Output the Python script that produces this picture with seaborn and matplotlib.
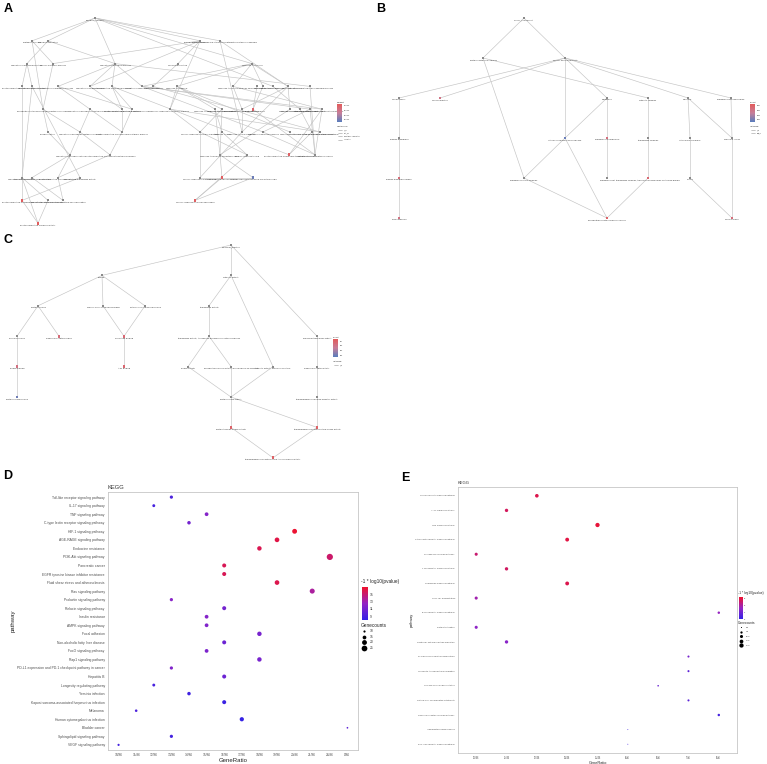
import numpy as np
import pandas as pd
import matplotlib
matplotlib.use("Agg")
import matplotlib.pyplot as plt
import seaborn as sns
from matplotlib.colors import LinearSegmentedColormap, Normalize

sns.set_theme(style="white")
plt.rcParams['font.family'] = ['Liberation Sans', 'DejaVu Sans']

# ---------------- Panel A (GO BP DAG) ----------------
a_keys = ["bp",
          "mp", "br", "cp", "bpi",
          "rmf", "cmp", "rbp", "cc", "rs",
          "prmf", "rca", "rmp", "rcp", "prbp", "rrs", "st", "rc", "res", "dr", "rst", "isp", "rbs", "rmo",
          "pccmp", "rpmp", "prcp", "prmp", "crcs", "roc", "ros", "rebs", "ir", "rb", "risp", "rrst", "rres",
          "phos", "rphmp", "prpmp", "cros", "rl", "roo", "rdr", "rcy", "prisp", "cmsp",
          "rphos", "prphmp", "rmbo", "crl", "prres", "rir",
          "rka", "rpp", "prph", "rta", "crbs", "rlps", "crmbo",
          "prta", "rpka", "prpp", "crlps",
          "prka"]
a_labels = ["biological_process",
            "metabolic process", "biological regulation", "cellular process",
            "biological process involved in interspecies interaction between organisms",
            "regulation of molecular function", "cellular metabolic process", "regulation of biological process",
            "cell communication", "response to stimulus",
            "positive regulation of molecular function", "regulation of catalytic activity",
            "regulation of metabolic process", "regulation of cellular process",
            "positive regulation of biological process", "regulation of response to stimulus",
            "signal transduction", "response to chemical", "response to external stimulus",
            "defense response", "response to stress", "immune system process",
            "response to biotic stimulus", "regulation of multicellular organismal process",
            "phosphate-containing compound metabolic process", "regulation of phosphorus metabolic process",
            "positive regulation of cellular process", "positive regulation of metabolic process",
            "cellular response to chemical stimulus", "response to oxygen-containing compound",
            "response to organic substance", "response to external biotic stimulus", "inflammatory response",
            "response to bacterium", "regulation of immune system process", "regulation of response to stress",
            "regulation of response to external stimulus",
            "phosphorylation", "regulation of phosphate metabolic process",
            "positive regulation of phosphorus metabolic process", "cellular response to organic substance",
            "response to lipid", "response to other organism", "regulation of defense response",
            "response to cytokine", "positive regulation of immune system process",
            "cytokine-mediated signaling pathway",
            "regulation of phosphorylation", "positive regulation of phosphate metabolic process",
            "response to molecule of bacterial origin", "cellular response to lipid",
            "positive regulation of response to external stimulus", "regulation of inflammatory response",
            "regulation of kinase activity", "regulation of protein phosphorylation",
            "positive regulation of phosphorylation", "regulation of transferase activity",
            "cellular response to biotic stimulus", "response to lipopolysaccharide",
            "cellular response to molecule of bacterial origin",
            "positive regulation of transferase activity", "regulation of protein kinase activity",
            "positive regulation of protein phosphorylation", "cellular response to lipopolysaccharide",
            "positive regulation of kinase activity"]
a_layer = [0] + [1]*4 + [2]*5 + [3]*14 + [4]*13 + [5]*10 + [6]*6 + [7]*7 + [8]*4 + [9]
a_slot = [95,
          32, 48, 200, 220,
          27, 53, 115, 178, 252,
          22, 32, 58, 90, 112, 142, 153, 177, 233, 257, 263, 273, 288, 310,
          43, 90, 122, 132, 170, 215, 222, 242, 253, 290, 300, 310, 322,
          48, 80, 122, 200, 222, 242, 263, 290, 312, 320,
          70, 110, 220, 247, 289, 315,
          22, 32, 58, 80, 200, 222, 253,
          22, 48, 63, 195,
          38]
a_padj = {"ir": 6e-6, "prres": 4e-6, "rlps": 3e-6, "prta": 2e-6, "crlps": 3e-6, "prka": 1e-6, "crmbo": 4.6e-5}
a_edges = [("bp", "mp"), ("bp", "br"), ("bp", "cp"), ("bp", "bpi"), ("bp", "rs"), ("bp", "rbp"), ("bp", "isp"),
           ("mp", "cmp"), ("mp", "pccmp"), ("br", "rmf"), ("br", "rbp"),
           ("cp", "cc"), ("cp", "cmp"), ("cp", "rcp"), ("cp", "crcs"), ("bpi", "rbs"), ("bpi", "roo"),
           ("rmf", "prmf"), ("rmf", "rca"), ("cmp", "pccmp"),
           ("rbp", "rmp"), ("rbp", "rcp"), ("rbp", "prbp"), ("rbp", "rrs"), ("rbp", "rmo"), ("cc", "st"),
           ("rs", "rc"), ("rs", "res"), ("rs", "rst"), ("rs", "rbs"), ("rs", "rrs"),
           ("prmf", "prta"), ("rca", "rta"), ("rca", "rka"), ("rmp", "rpmp"), ("rmp", "prmp"),
           ("rcp", "prcp"), ("prbp", "prcp"), ("prbp", "prmp"), ("prbp", "prres"),
           ("rrs", "rrst"), ("rrs", "rres"), ("rrs", "rdr"), ("st", "cmsp"),
           ("rc", "crcs"), ("rc", "roc"), ("rc", "ros"), ("rc", "rcy"), ("res", "rebs"), ("res", "rres"),
           ("dr", "ir"), ("rst", "ir"), ("isp", "risp"), ("rbs", "rebs"), ("rbs", "rb"), ("rbs", "roo"),
           ("rmo", "rir"), ("pccmp", "phos"), ("pccmp", "rphmp"), ("rpmp", "rphmp"), ("rpmp", "prpmp"),
           ("prcp", "prpmp"), ("prmp", "prpmp"), ("crcs", "cros"), ("crcs", "cmsp"),
           ("roc", "rl"), ("roc", "rmbo"), ("ros", "cros"), ("ros", "rmbo"), ("rebs", "roo"),
           ("ir", "rir"), ("rb", "rmbo"), ("risp", "prisp"), ("rrst", "rdr"), ("rrst", "rir"),
           ("rres", "prres"), ("rres", "rir"), ("phos", "rphos"), ("rphmp", "rphos"), ("rphmp", "prphmp"),
           ("prpmp", "prphmp"), ("cros", "crl"), ("cros", "crbs"), ("rl", "crl"), ("roo", "crbs"),
           ("rdr", "rir"), ("prisp", "prres"), ("rphos", "rpp"), ("rphos", "prph"), ("prphmp", "prph"),
           ("rmbo", "rlps"), ("rmbo", "crmbo"), ("crl", "crlps"), ("rka", "rpka"), ("rka", "prka"),
           ("rpp", "prpp"), ("prph", "prpp"), ("rta", "prta"), ("crbs", "crmbo"), ("rlps", "crlps"),
           ("crmbo", "crlps"), ("prta", "prka"), ("rpka", "prka")]

# ---------------- Panel B (GO CC DAG) ----------------
b_keys = ["cc0", "pcc", "cae", "cper", "ccj", "mem", "cat", "org", "mel",
          "pm", "icm", "mmd", "trc", "iorg", "ol",
          "pmr", "mpc", "mr", "trcp", "ves",
          "fa", "pi3k", "vl"]
b_labels = ["cellular_component", "protein-containing complex", "cellular anatomical entity",
            "cell periphery", "cell-cell junction", "membrane", "catalytic complex", "organelle",
            "membrane-enclosed lumen",
            "plasma membrane", "intrinsic component of membrane", "membrane microdomain",
            "transferase complex", "intracellular organelle", "organelle lumen",
            "plasma membrane region", "membrane protein complex", "membrane raft",
            "transferase complex, transferring phosphorus-containing groups", "vesicle",
            "focal adhesion", "phosphatidylinositol 3-kinase complex", "vesicle lumen"]
b_layer = [0, 1, 1, 2, 2, 2, 2, 2, 2, 3, 3, 3, 3, 3, 3, 4, 4, 4, 4, 4, 5, 5, 5]
b_slot = [524, 483, 565, 399, 440, 607, 648, 688, 731,
          399, 565, 607, 648, 690, 732,
          399, 524, 607, 648, 690,
          399, 607, 732]
b_padj = {"ccj": 0.0015, "mmd": 0.0012, "pmr": 0.001, "trcp": 0.0008, "pi3k": 0.0005,
          "vl": 0.0011, "fa": 0.0014, "icm": 0.0042}
b_edges = [("cc0", "pcc"), ("cc0", "cae"), ("pcc", "mpc"), ("pcc", "cat"),
           ("cae", "cper"), ("cae", "ccj"), ("cae", "mem"), ("cae", "org"), ("cae", "mel"), ("cae", "icm"),
           ("cper", "pm"), ("pm", "pmr"), ("pmr", "fa"), ("mem", "icm"), ("mem", "mmd"), ("mmd", "mr"),
           ("icm", "mpc"), ("icm", "pi3k"), ("mpc", "pi3k"), ("cat", "trc"), ("trc", "trcp"),
           ("trcp", "pi3k"), ("org", "iorg"), ("org", "ol"), ("iorg", "ves"), ("ves", "vl"),
           ("mel", "ol"), ("ol", "vl")]

# ---------------- Panel C (GO MF DAG) ----------------
c_keys = ["mf", "bind", "cat", "pb", "occb", "hcb", "ta", "eb", "srb", "nb", "tap", "mta",
          "kb", "atp", "ka", "pta", "cap", "sra", "pkb", "pka", "tsra", "ptka", "trpk", "trptk"]
c_labels = ["molecular_function", "binding", "catalytic activity", "protein binding",
            "organic cyclic compound binding", "heterocyclic compound binding", "transferase activity",
            "enzyme binding", "signaling receptor binding", "nucleotide binding",
            "transferase activity, transferring phosphorus-containing groups", "molecular transducer activity",
            "kinase binding", "ATP binding", "kinase activity",
            "phosphotransferase activity, alcohol group as acceptor", "catalytic activity, acting on a protein",
            "signaling receptor activity", "protein kinase binding", "protein kinase activity",
            "transmembrane signaling receptor activity", "protein tyrosine kinase activity",
            "transmembrane receptor protein kinase activity",
            "transmembrane receptor protein tyrosine kinase activity"]
c_layer = [0, 1, 1, 2, 2, 2, 2, 3, 3, 3, 3, 3, 4, 4, 4, 4, 4, 4, 5, 5, 5, 6, 6, 7]
c_slot = [231, 102, 231, 38, 103, 145, 209, 17, 59, 124, 209, 317,
          17, 124, 188, 231, 273, 317, 17, 231, 317, 231, 317, 273]
c_padj = {"srb": 0.012, "nb": 0.010, "kb": 0.015, "atp": 0.008, "ptka": 0.006, "trpk": 0.005,
          "trptk": 0.004, "pkb": 0.045}
c_edges = [("mf", "bind"), ("mf", "cat"), ("mf", "mta"), ("bind", "pb"), ("bind", "occb"), ("bind", "hcb"),
           ("pb", "eb"), ("pb", "srb"), ("occb", "nb"), ("hcb", "nb"), ("nb", "atp"), ("eb", "kb"),
           ("kb", "pkb"), ("cat", "ta"), ("cat", "cap"), ("ta", "tap"), ("tap", "ka"), ("tap", "pta"),
           ("ka", "pka"), ("pta", "pka"), ("cap", "pka"), ("pka", "ptka"), ("pka", "trpk"),
           ("mta", "sra"), ("sra", "tsra"), ("tsra", "trpk"), ("ptka", "trptk"), ("trpk", "trptk")]

# ---------------- Panel D (KEGG dot plot) ----------------
d_pathways = ["Toll-like receptor signaling pathway", "IL-17 signaling pathway", "TNF signaling pathway",
              "C-type lectin receptor signaling pathway", "HIF-1 signaling pathway", "AGE-RAGE signaling pathway",
              "Endocrine resistance", "PI3K-Akt signaling pathway", "Pancreatic cancer",
              "EGFR tyrosine kinase inhibitor resistance", "Fluid shear stress and atherosclerosis",
              "Ras signaling pathway", "Prolactin signaling pathway", "Relaxin signaling pathway",
              "Insulin resistance", "AMPK signaling pathway", "Focal adhesion",
              "Non-alcoholic fatty liver disease", "FoxO signaling pathway", "Rap1 signaling pathway",
              "PD-L1 expression and PD-1 checkpoint pathway in cancer", "Hepatitis B",
              "Longevity regulating pathway", "Yersinia infection",
              "Kaposi sarcoma-associated herpesvirus infection", "Melanoma", "Human cytomegalovirus infection",
              "Bladder cancer", "Sphingolipid signaling pathway", "VEGF signaling pathway"]
d_counts = [13, 12, 15, 14, 20, 19, 18, 28, 16, 16, 19, 21, 13, 16, 15, 15, 18, 16, 15, 18,
            13, 16, 12, 14, 16, 11, 17, 9, 13, 10]
d_logp = [9.2, 8.9, 11.8, 11.0, 16.8, 16.2, 15.9, 15.2, 15.8, 15.8, 16.0, 13.6, 12.0, 11.0, 11.8, 11.6,
          11.2, 10.6, 11.4, 11.2, 11.6, 10.6, 9.0, 8.6, 8.4, 9.2, 8.1, 10.0, 8.8, 8.8]
d_total = 86

# ---------------- Panel E (KEGG dot plot) ----------------
e_pathways = ["Toll-like receptor signaling pathway", "IL-17 signaling pathway", "TNF signaling pathway",
              "C-type lectin receptor signaling pathway", "NF-kappa B signaling pathway",
              "T cell receptor signaling pathway", "Chemokine signaling pathway", "Th17 cell differentiation",
              "B cell receptor signaling pathway", "Platelet activation",
              "Neutrophil extracellular trap formation", "Fc gamma R-mediated phagocytosis",
              "Leukocyte transendothelial migration", "Th1 and Th2 cell differentiation",
              "Natural killer cell mediated cytotoxicity", "NOD-like receptor signaling pathway",
              "Inflammatory bowel disease", "RIG-I-like receptor signaling pathway"]
e_counts = [12, 11, 15, 13, 10, 11, 13, 10, 8, 10, 11, 7, 7, 6, 7, 8, 5, 5]
e_logp = [7.6, 7.3, 8.0, 7.8, 6.9, 7.2, 7.6, 5.6, 5.2, 5.0, 4.8, 4.2, 3.4, 3.8, 3.3, 2.6, 2.4, 2.4]
e_total = 46

# ======================================================================
W, H = 767, 764
fig = plt.figure(figsize=(W / 100, H / 100), dpi=100)
fig.patch.set_facecolor("white")


def frac(x0, y0, x1, y1):
    return [x0 / W, 1 - y1 / H, (x1 - x0) / W, (y1 - y0) / H]


ax_g = fig.add_axes([0, 0, 1, 1])
ax_g.set_xlim(0, W)
ax_g.set_ylim(H, 0)
ax_g.axis("off")

cmap_go = LinearSegmentedColormap.from_list("go", ["#e35b5b", "#c77f9a", "#5a7dbd"])
cmap_ke = LinearSegmentedColormap.from_list("ke", ["#3322e6", "#9424c4", "#f0122c"])


def draw_graph(keys, labels, layers, slots, padj, edges, y0, dy, pnorm):
    df = pd.DataFrame({"key": keys, "label": labels, "layer": layers, "x": slots})
    df["y"] = y0 + dy * df["layer"]
    df["padj"] = [padj.get(k, np.nan) for k in keys]
    pos = df.set_index("key")
    for a, b in edges:
        ax_g.plot([pos.at[a, "x"], pos.at[b, "x"]], [pos.at[a, "y"], pos.at[b, "y"]],
                  color="#c4c4c4", lw=0.45, zorder=1)
    gray = df[df["padj"].isna()]
    sig = df[df["padj"].notna()]
    sns.scatterplot(data=gray, x="x", y="y", color="#8a8a8a", marker="s", s=3.5, linewidth=0,
                    ax=ax_g, zorder=3, legend=False)
    sns.scatterplot(data=sig, x="x", y="y", hue="padj", palette=cmap_go, hue_norm=pnorm, marker="s",
                    s=4.5, linewidth=0, ax=ax_g, zorder=3, legend=False)
    for _, r in df.iterrows():
        ax_g.text(r["x"], r["y"] + 2.0, r["label"], fontsize=1.6, ha="center", va="center",
                  color="#333333", zorder=4)
    ax_g.set_xlim(0, W)
    ax_g.set_ylim(H, 0)
    ax_g.set_xlabel("")
    ax_g.set_ylabel("")


def go_legend(x, y, tick_labels, rels, fs=1.6):
    ax_g.text(x, y - 1, "p.adjust", fontsize=fs, ha="left", va="bottom", color="#333333")
    cax = fig.add_axes(frac(x, y, x + 5, y + 18))
    cax.imshow(np.linspace(0, 1, 64).reshape(-1, 1), aspect="auto", cmap=cmap_go)
    cax.axis("off")
    n = len(tick_labels)
    for i, t in enumerate(tick_labels):
        ax_g.text(x + 7, y + 2 + i * (14 / max(n - 1, 1)), t, fontsize=fs * 0.85, ha="left",
                  va="center", color="#333333")
    ax_g.text(x, y + 22, "relationship", fontsize=fs, ha="left", va="center", color="#333333")
    for i, r in enumerate(rels):
        yy = y + 26 + i * 3.2
        ax_g.plot([x + 1, x + 5], [yy, yy], color="#9a9a9a", lw=0.4)
        ax_g.text(x + 7, yy, r, fontsize=fs * 0.85, ha="left", va="center", color="#333333")


draw_graph(a_keys, a_labels, a_layer, a_slot, a_padj, a_edges, 18, 22.8, (0, 5e-5))
draw_graph(b_keys, b_labels, b_layer, b_slot, b_padj, b_edges, 18, 40, (0, 0.0045))
draw_graph(c_keys, c_labels, c_layer, c_slot, c_padj, c_edges, 245, 30.4, (0, 0.05))

go_legend(337, 104, ["1.0e-05", "2.0e-05", "3.0e-05", "4.0e-05"],
          ["is_a", "part_of", "positively regulates", "regulates"])
go_legend(750, 104, ["0.001", "0.002", "0.003", "0.004"], ["is_a", "part_of"], fs=1.4)
go_legend(333, 339, ["0.01", "0.02", "0.03", "0.04"], ["is_a"], fs=1.4)

# panel letters
for lab, (px, py) in {"A": (8, 9), "B": (381, 9), "C": (8, 240), "D": (8, 476), "E": (405, 478)}.items():
    ax_g.text(px, py, lab, fontsize=9, fontweight="bold", ha="center", va="center", color="black")


# ---------------- dot plots ----------------
def dot_panel(box, pathways, counts, logp, total, hnorm, sizes, snorm, fs):
    df = pd.DataFrame({"pathway": pathways, "count": counts, "logp": logp})
    df["GeneRatio"] = [f"{c}/{total}" for c in counts]
    order = sorted(df["GeneRatio"].unique())
    df["xpos"] = df["GeneRatio"].map({r: i for i, r in enumerate(order)})
    df["ypos"] = np.arange(len(df))
    ax = fig.add_axes(frac(*box))
    sns.scatterplot(data=df, x="xpos", y="ypos", hue="logp", size="count", palette=cmap_ke,
                    hue_norm=hnorm, sizes=sizes, size_norm=snorm, linewidth=0, legend=False, ax=ax)
    ax.set_xlim(-0.6, len(order) - 0.4)
    ax.set_ylim(len(df) - 0.4, -0.6)
    ax.set_xticks(range(len(order)))
    ax.set_xticklabels(order, fontsize=fs["xt"], color="#4d4d4d")
    ax.set_yticks(range(len(df)))
    ax.set_yticklabels(pathways, fontsize=fs["yt"], color="#4d4d4d")
    ax.tick_params(axis="both", length=1.3, width=0.3, color="#555555", pad=1)
    ax.set_xlabel("GeneRatio", fontsize=fs["lab"], labelpad=0.5, color="#222222")
    ax.set_ylabel("pathway", fontsize=fs["lab"], labelpad=1, color="#222222")
    ax.set_title("KEGG", loc="left", fontsize=fs["title"], pad=2, color="#333333")
    ax.set_facecolor("white")
    for s in ax.spines.values():
        s.set_color("#c6c6c6")
        s.set_linewidth(0.6)
    ax.grid(False)
    return ax


def size_of(v, sizes, snorm):
    return sizes[0] + (sizes[1] - sizes[0]) * (v - snorm[0]) / (snorm[1] - snorm[0])


d_sizes, d_snorm, d_hnorm = (1.5, 20), (9, 28), (8.0, 17.0)
e_sizes, e_snorm, e_hnorm = (0.4, 9.5), (5, 15), (2.0, 8.3)

dot_panel((108, 492, 358, 750), d_pathways, d_counts, d_logp, d_total, d_hnorm, d_sizes, d_snorm,
          {"xt": 2.3, "yt": 2.4, "lab": 4.3, "title": 4.2})
dot_panel((458, 487, 737, 753), e_pathways, e_counts, e_logp, e_total, e_hnorm, e_sizes, e_snorm,
          {"xt": 1.8, "yt": 1.6, "lab": 2.8, "title": 3.0})


def dot_legend(x, ytitle, cbox, ticks, size_vals, size_labels, sizes, snorm, hnorm, fs_t, fs_l, step):
    ax_g.text(x, ytitle, "-1 * log10(pvalue)", fontsize=fs_t, ha="left", va="center", color="#222222")
    cax = fig.add_axes(frac(*cbox))
    sm = plt.cm.ScalarMappable(norm=Normalize(*hnorm), cmap=cmap_ke)
    cb = fig.colorbar(sm, cax=cax, ticks=ticks)
    cb.outline.set_visible(False)
    cax.tick_params(labelsize=fs_l, length=1.0, width=0.3, color="white", direction="in", pad=1,
                    labelcolor="#333333")
    ytop = cbox[3] + fs_t * 1.6
    ax_g.text(x, ytop, "Genecounts", fontsize=fs_t, ha="left", va="center", color="#222222")
    for i, (v, lb) in enumerate(zip(size_vals, size_labels)):
        yy = ytop + (i + 1) * step
        ax_g.scatter(x + 3, yy, s=size_of(v, sizes, snorm), color="black", linewidth=0)
        ax_g.text(x + 3 + step, yy, lb, fontsize=fs_l, ha="left", va="center", color="#333333")


dot_legend(361, 581, (362, 587, 368, 620), [9, 11, 13, 15], [10, 15, 20, 25], ["10", "15", "20", "25"],
           d_sizes, d_snorm, d_hnorm, 3.4, 2.4, 5.6)
dot_legend(738, 593, (739, 597, 743, 619), [2, 4, 6, 8], [5, 7.5, 10, 12.5, 15],
           ["5.0", "7.5", "10.0", "12.5", "15.0"], e_sizes, e_snorm, e_hnorm, 2.3, 1.6, 4.5)

fig.savefig("out.png", dpi=100, facecolor="white")
